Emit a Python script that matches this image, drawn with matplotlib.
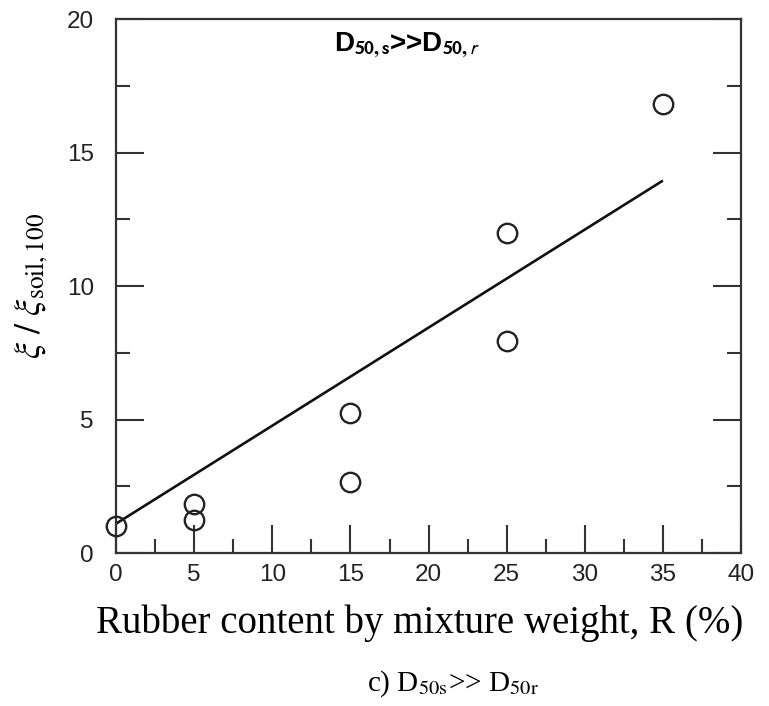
import matplotlib

matplotlib.use("Agg")
import matplotlib.pyplot as plt
import numpy as np
from matplotlib.ticker import MultipleLocator

# measured damping ratios, normalised by the pure-soil value
rubber_pct = [0, 5, 5, 15, 15, 25, 25, 35]
damping_ratio = [1.0, 1.85, 1.25, 5.25, 2.65, 12.0, 7.95, 16.8]

# linear trend drawn over the tested range
fit_x = [0, 35]
fit_y = [1.1, 13.95]

fig = plt.figure(figsize=(7.69, 7.06), dpi=100)
ax = fig.add_axes([0.151, 0.2167, 0.8126, 0.7563])

ax.plot(fit_x, fit_y, color="#111111", lw=1.9, solid_capstyle="butt", zorder=2)
ax.plot(rubber_pct, damping_ratio, "o", ms=14, mfc="none", mec="#222222",
        mew=1.7, clip_on=False, zorder=3)

ax.set_xlim(0, 40)
ax.set_ylim(0, 20)
ax.xaxis.set_major_locator(MultipleLocator(5))
ax.xaxis.set_minor_locator(MultipleLocator(2.5))
ax.yaxis.set_major_locator(MultipleLocator(5))
ax.yaxis.set_minor_locator(MultipleLocator(2.5))

for s in ax.spines.values():
    s.set_linewidth(1.6)
    s.set_color("#333333")

ax.tick_params(which="both", direction="in", top=False, right=True,
               width=1.5, color="#333333")
ax.tick_params(which="major", length=20)
ax.tick_params(which="minor", length=10)
ax.tick_params(axis="x", which="major", pad=8)
ax.tick_params(axis="y", which="major", pad=16)
for lab in ax.get_xticklabels() + ax.get_yticklabels():
    lab.set_fontfamily("Liberation Sans")
    lab.set_fontsize(17.5)
    lab.set_color("#222222")

ax.text(0.466, 0.951, r"D$_{\mathbf{50,s}}$>>D$_{\mathbf{50,}r}$",
        transform=ax.transAxes, ha="center", va="center", fontsize=20,
        family="Liberation Sans", fontweight="bold", math_fontfamily="stixsans")

ax.set_ylabel(r"$\xi\ /\ \xi_{\mathrm{soil,100}}$", fontsize=26,
              math_fontfamily="stix", labelpad=12)

fig.text(0.546, 0.117, "Rubber content by mixture weight, R (%)",
         ha="center", va="center", family="Liberation Serif", fontsize=28)
fig.text(0.589, 0.032, r"c) D$_{\mathrm{50s}}$>> D$_{\mathrm{50r}}$",
         ha="center", va="center", family="Liberation Serif", fontsize=21,
         math_fontfamily="stix")

fig.savefig("out.png", dpi=100)
